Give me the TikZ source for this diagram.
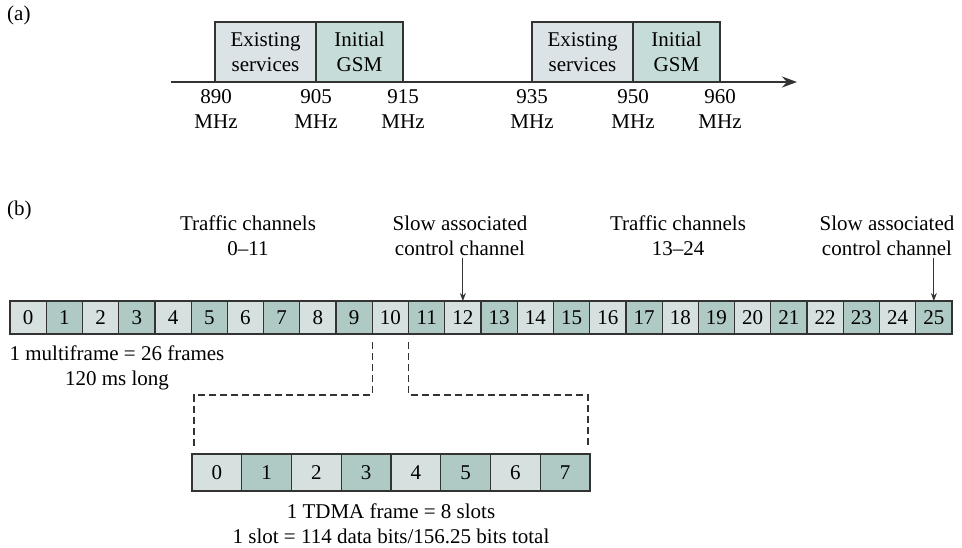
\documentclass[tikz,border=0pt]{standalone}
\usepackage{fontspec}
\setmainfont{Liberation Serif}
\usetikzlibrary{arrows.meta,calc}
\definecolor{lightc}{HTML}{D5E0DF}
\definecolor{darkc}{HTML}{AFCAC4}
\definecolor{exist}{HTML}{DCE3E6}
\definecolor{gsm}{HTML}{C6DCD8}
\definecolor{edge}{HTML}{333333}
\begin{document}
\begin{tikzpicture}[x=1pt,y=-1pt,
  font=\fontsize{21}{25}\selectfont,
  box/.style={draw=edge, line width=1.2pt, inner sep=0pt, outer sep=0pt, anchor=north west, align=center},
  fcell/.style={box},
  cell0/.style={fill=lightc},
  cell1/.style={fill=darkc},
  lbl/.style={align=center, inner sep=0pt},
  conn/.style={draw=edge, line width=1pt, -{Stealth[length=8pt,width=6pt]}},
  axisln/.style={draw=edge, line width=1.8pt, -{Stealth[length=15pt,width=11pt]}},
  dashln/.style={draw=edge, line width=1.2pt, dash pattern=on 7pt off 4pt}]
\useasboundingbox (0,0) rectangle (962,547);

% ---------- (a) ----------
\node[lbl, anchor=west] (la) at (7,15) {(a)};
\coordinate (ax0) at (171,82);
\coordinate (ax1) at (797,82);
\draw[axisln] (ax0) -- (ax1);
\node[box, fill=exist, minimum width=101pt, minimum height=60pt] (b1) at (215,22) {Existing\\services};
\node[box, fill=gsm, minimum width=87pt, minimum height=60pt] (b2) at (316,22) {Initial\\GSM};
\node[box, fill=exist, minimum width=101pt, minimum height=60pt] (b3) at (532,22) {Existing\\services};
\node[box, fill=gsm, minimum width=87pt, minimum height=60pt] (b4) at (633,22) {Initial\\GSM};
\node[lbl] (m890) at (216,109.5) {890\\MHz};
\node[lbl] (m905) at (316,109.5) {905\\MHz};
\node[lbl] (m915) at (403,109.5) {915\\MHz};
\node[lbl] (m935) at (532,109.5) {935\\MHz};
\node[lbl] (m950) at (633,109.5) {950\\MHz};
\node[lbl] (m960) at (720,109.5) {960\\MHz};

% ---------- (b) ----------
\node[lbl, anchor=west] (lb) at (7,210) {(b)};
\foreach \i [evaluate=\i as \c using {int(mod(\i,2))}] in {0,...,25}
  \node[fcell, cell\c, minimum width=36.23pt, minimum height=33pt] (f\i) at ({10+\i*36.23},301) {\i};

\node[lbl] (tc1) at (248,235.5) {Traffic channels\\0–11};
\node[lbl] (sa1) at (460,235.5) {Slow associated\\control channel};
\node[lbl] (tc2) at (678,235.5) {Traffic channels\\13–24};
\node[lbl] (sa2) at (887,235.5) {Slow associated\\control channel};

\coordinate (a12) at ($(f12.north)+(0,-43)$);
\coordinate (a25) at ($(f25.north)+(0,-43)$);
\draw[conn] (a12) -- (f12.north);
\draw[conn] (a25) -- (f25.north);

\node[lbl] (mf) at (117,367.5) {1 multiframe = 26 frames\\120 ms long};

\foreach \i [evaluate=\i as \c using {int(mod(\i,2))}] in {0,...,7}
  \node[fcell, cell\c, minimum width=49.75pt, minimum height=37pt] (t\i) at ({192+\i*49.75},454) {\i};

\node[lbl] (tdma) at (391,523.5) {1 TDMA frame = 8 slots\\1 slot = 114 data bits/156.25 bits total};

\coordinate (d1) at ($(f10.south west)+(0,8)$);
\coordinate (d2) at ($(f11.south west)+(0,8)$);
\coordinate (hh) at (0,395);
\coordinate (dl) at ($(t0.north west)+(2,-7)$);
\coordinate (dr) at ($(t7.north east)+(-2,-7)$);
\draw[dashln] (d1) -- (d1 |- hh) -| (dl);
\draw[dashln] (d2) -- (d2 |- hh) -| (dr);
\end{tikzpicture}
\end{document}
